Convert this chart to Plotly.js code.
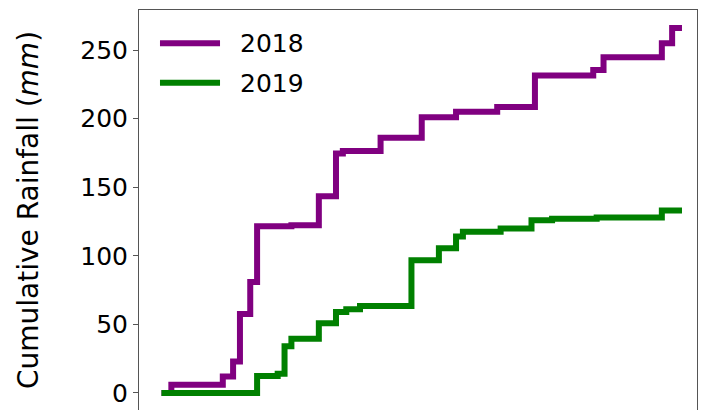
<!DOCTYPE html>
<html>
<head>
<meta charset="utf-8">
<script src="https://cdn.plot.ly/plotly-3.0.1.min.js"></script>
<style>
  html, body { margin: 0; padding: 0; background: #fff; overflow: hidden; }
  #chart { width: 707px; height: 410px; }
  /* square line ends, like the legend keys */
  #chart .scatterlayer path.js-line { stroke-linecap: square !important; }
</style>
</head>
<body>
<div id="chart"></div>
<script>
// Cumulative rainfall through the season (day of season vs. running total, mm)
const seriesNames = ['2018', '2019'];
const seriesColors = ['#800080', '#008000'];

const days2018 = [0, 2, 17, 20, 22, 25, 27, 37, 45, 50, 52, 63, 75, 85, 97, 108, 125, 128, 145, 148, 150];
const rain2018 = [0, 6, 12, 23, 57.5, 81, 121.5, 122.3, 143.5, 174.5, 176.5, 186, 201, 205, 208.5, 231.5, 235.5, 244.7, 255, 266, 266];

const days2019 = [0, 27, 33, 35, 37, 45, 50, 53, 57, 72, 80, 85, 87, 98, 107, 113, 126, 145, 150];
const rain2019 = [0, 12.3, 14, 34, 39.5, 50.8, 59, 61, 63.5, 96.7, 105.5, 114, 117.6, 120, 126, 127, 128, 133, 133];

const yTicks = [0, 50, 100, 150, 200, 250];

const FONT = 'DejaVu Sans, sans-serif';

const traces = [
  { x: days2018, y: rain2018, name: seriesNames[0] },
  { x: days2019, y: rain2019, name: seriesNames[1] }
].map((t, i) => ({
  x: t.x, y: t.y, name: t.name,
  type: 'scatter', mode: 'lines',
  line: { color: seriesColors[i], width: 6, shape: 'hv' },
  hoverinfo: 'skip'
}));

// Legend: long line keys with labels at the upper left of the plot area
const legendShapes = [];
const legendLabels = [];
const keyY = [0.917, 0.818];
seriesNames.forEach((name, i) => {
  legendShapes.push({
    type: 'line', xref: 'paper', yref: 'paper',
    x0: 0.0376, x1: 0.1452, y0: keyY[i], y1: keyY[i],
    line: { color: seriesColors[i], width: 6 }
  });
  legendLabels.push({
    xref: 'paper', yref: 'paper', x: 0.1774, y: keyY[i] - 0.002,
    xanchor: 'left', yanchor: 'middle', showarrow: false,
    text: name, font: { family: FONT, size: 25, color: '#000' }
  });
});

const layout = {
  width: 707, height: 410,
  margin: { l: 139, r: 10, t: 10, b: 0, pad: 0 },
  paper_bgcolor: '#fff', plot_bgcolor: '#fff',
  showlegend: false,
  font: { family: FONT, color: '#000' },
  xaxis: {
    range: [-7.43, 155.25],
    side: 'top',
    showline: true, linecolor: '#555', linewidth: 1,
    showticklabels: false, ticks: '',
    showgrid: false, zeroline: false
  },
  yaxis: {
    range: [-12.4, 279.2],
    tickvals: yTicks,
    ticktext: yTicks.map(String),
    ticks: 'outside', ticklen: 5, tickwidth: 1, tickcolor: '#555',
    tickfont: { family: FONT, size: 25, color: '#000' },
    showline: true, mirror: true, linecolor: '#555', linewidth: 1,
    showgrid: false, zeroline: false,
    title: {
      text: 'Cumulative Rainfall (<i>mm</i>)',
      font: { family: FONT, size: 28, color: '#000' },
      standoff: 33
    }
  },
  shapes: legendShapes,
  annotations: legendLabels
};

Plotly.newPlot('chart', traces, layout, { staticPlot: true, displayModeBar: false });
</script>
</body>
</html>
